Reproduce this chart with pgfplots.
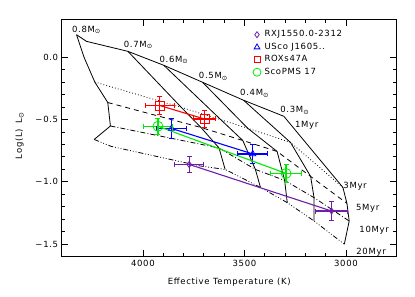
\documentclass[border=0pt]{standalone}
\usepackage{fontspec}
\setmainfont{DejaVu Sans}[LetterSpace=8]
\usepackage{pgfplots}
\pgfplotsset{compat=1.18}
\definecolor{ppl}{RGB}{110,30,170}
\definecolor{grn}{RGB}{0,235,0}
\definecolor{blu}{RGB}{0,0,255}
\definecolor{rd}{RGB}{255,0,0}
\newcommand{\Msun}{M\raisebox{-1.6pt}{\fontsize{6.5}{6.5}\selectfont ⊙}}

\pgfplotstableread{
T L
4327 0.178
4278 0.125
4074 0.045
3897 -0.067
3706 -0.203
3504 -0.347
3306 -0.475
}\onemyr

\begin{document}
\begin{tikzpicture}[font=\fontsize{8.5}{10}\selectfont]
\begin{axis}[
 name=ax,
 scale only axis, width=335pt, height=237.2pt,
 x dir=reverse, xmin=2750, xmax=4400, ymin=-1.6, ymax=0.3,
 xtick={3000,3500,4000}, xticklabels={3000,3500,4000},
 minor x tick num=4,
 ytick={-1.5,-1,-0.5,0}, yticklabels={−1.5,−1.0,−0.5,0.0},
 minor y tick num=4,
 tick align=inside, major tick length=6.5pt, minor tick length=3.5pt,
 every tick/.style={black, line width=0.7pt},
 axis line style={line width=0.8pt},
 xlabel={Effective Temperature (K)}, ylabel={Log(L)\hspace{6pt}L\raisebox{-1.6pt}{\fontsize{7}{7}\selectfont ⊙}},
 xlabel style={at={(axis description cs:0.5,-0.109)}, anchor=center},
 ylabel style={at={(axis description cs:-0.1255,0.51)}, anchor=center},
 clip=false,
 legend style={at={(0.5705,0.958)}, anchor=north west, draw=none, fill=none,
   inner sep=0pt, row sep=2.4pt,
   nodes={inner sep=1pt, text height=6.3pt, text depth=1.8pt},
   /tikz/every odd column/.append style={column sep=2.5pt}},
 legend cell align=left,
 trackline/.style={black, line width=0.8pt, no markers, solid, forget plot},
 isoline/.style={black, line width=0.8pt, no markers, forget plot},
 errhoriz/.style={line width=1.2pt, solid, mark=|, mark size=2.5pt, mark options={solid, line width=1pt}, forget plot},
 errvert/.style={line width=1.2pt, solid, mark=-, mark size=2.5pt, mark options={solid, line width=1pt}, forget plot},
 datline/.style={line width=1.1pt, mark options={solid, line width=0.8pt, fill=none}, forget plot},
]
% 1 Myr (top solid) and mass tracks
\addplot[trackline] table[x=T,y=L] {\onemyr};
\addplot[trackline] coordinates {(4327,0.178) (4289,-0.006) (4237,-0.201) (4173,-0.365) (4160,-0.553) (4240,-0.661)};
\addplot[trackline] coordinates {(4074,0.045) (3811,-0.404) (3714,-0.565) (3625,-0.729) (3595,-0.901)};
\addplot[trackline] coordinates {(3897,-0.067) (3616,-0.503) (3508,-0.669) (3446,-0.901) (3421,-1.045)};
\addplot[trackline] coordinates {(3706,-0.203) (3484,-0.571) (3339,-0.757) (3302,-0.989) (3289,-1.167)};
\addplot[trackline] coordinates {(3504,-0.347) (3273,-0.685) (3174,-0.957) (3157,-1.127) (3157,-1.314)};
\addplot[trackline] coordinates {(3306,-0.475) (3015,-1.045) (2995,-1.173) (2984,-1.314) (3008,-1.500)};
% isochrones
\addplot[isoline, dash pattern=on 0.8pt off 2.2pt] coordinates {(4237,-0.201) (3811,-0.404) (3616,-0.503) (3484,-0.571) (3273,-0.685) (3015,-1.045)};
\addplot[isoline, dash pattern=on 5pt off 4pt] coordinates {(4173,-0.365) (3714,-0.565) (3508,-0.669) (3339,-0.757) (3174,-0.957) (2995,-1.173)};
\addplot[isoline, dash pattern=on 5pt off 2.2pt on 0.8pt off 2.2pt] coordinates {(4160,-0.553) (3625,-0.729) (3446,-0.901) (3302,-0.989) (3157,-1.127) (2984,-1.314)};
\addplot[isoline, dash pattern=on 5pt off 2pt on 0.8pt off 2pt on 0.8pt off 2pt on 0.8pt off 2pt] coordinates {(4240,-0.661) (4155,-0.717) (3719,-0.873) (3595,-0.901) (3421,-1.045) (3289,-1.167) (3157,-1.314) (3008,-1.500)};

% RXJ1550.0-2312
\addplot[ppl, datline, mark=diamond, mark size=3pt] coordinates {(3772,-0.861) (3071,-1.234)};
\addplot[ppl, errhoriz] coordinates {(3702,-0.861) (3842,-0.861)};
\addplot[ppl, errvert] coordinates {(3772,-0.927) (3772,-0.795)};
\addplot[ppl, errhoriz] coordinates {(2993,-1.234) (3149,-1.234)};
\addplot[ppl, errvert] coordinates {(3071,-1.310) (3071,-1.158)};
% USco J1605
\addplot[blu, datline, mark=triangle, mark size=3.5pt] coordinates {(3859,-0.573) (3459,-0.777)};
\addplot[blu, errhoriz] coordinates {(3787,-0.573) (3931,-0.573)};
\addplot[blu, errvert] coordinates {(3859,-0.651) (3859,-0.495)};
\addplot[blu, errhoriz] coordinates {(3385,-0.777) (3533,-0.777)};
\addplot[blu, errvert] coordinates {(3459,-0.850) (3459,-0.704)};
% ROXs47A
\addplot[rd, datline, mark=square, mark size=4.5pt] coordinates {(3917,-0.389) (3697,-0.497)};
\addplot[rd, errhoriz] coordinates {(3845,-0.389) (3989,-0.389)};
\addplot[rd, errvert] coordinates {(3917,-0.461) (3917,-0.317)};
\addplot[rd, errhoriz] coordinates {(3644,-0.497) (3750,-0.497)};
\addplot[rd, errvert] coordinates {(3697,-0.567) (3697,-0.427)};
% ScoPMS 17
\addplot[grn, datline, mark=o, mark size=5pt] coordinates {(3926,-0.555) (3295,-0.933)};
\addplot[grn, errhoriz] coordinates {(3854,-0.555) (3998,-0.555)};
\addplot[grn, errvert] coordinates {(3926,-0.620) (3926,-0.490)};
\addplot[grn, errhoriz] coordinates {(3220,-0.933) (3370,-0.933)};
\addplot[grn, errvert] coordinates {(3295,-1.003) (3295,-0.863)};

\addlegendimage{only marks, ppl, mark=diamond, mark size=3pt, mark options={solid, line width=0.8pt}}
\addlegendentry{RXJ1550.0-2312}
\addlegendimage{only marks, blu, mark=triangle, mark size=3.3pt, mark options={solid, line width=0.8pt}}
\addlegendentry{USco J1605..}
\addlegendimage{only marks, rd, mark=square, mark size=3pt, mark options={solid, line width=0.8pt}}
\addlegendentry{ROXs47A}
\addlegendimage{only marks, grn, mark=o, mark size=4pt, mark options={solid, line width=0.8pt}}
\addlegendentry{ScoPMS 17}

% labels
\node at (axis cs:4279,0.218) {0.8\Msun};
\node at (axis cs:4024,0.098) {0.7\Msun};
\node at (axis cs:3848,-0.022) {0.6\Msun};
\node at (axis cs:3654,-0.157) {0.5\Msun};
\node at (axis cs:3451,-0.293) {0.4\Msun};
\node at (axis cs:3253,-0.429) {0.3\Msun};
\node at (axis cs:3193,-0.549) {1Myr};
\node at (axis cs:2955,-1.033) {3Myr};
\node at (axis cs:2893,-1.213) {5Myr};
\node at (axis cs:2861,-1.389) {10Myr};
\node at (axis cs:2876,-1.568) {20Myr};
\end{axis}
\path (ax.south west) ++(-61.7pt,-40.3pt) rectangle ++(415pt,297pt);
\end{tikzpicture}
\end{document}
